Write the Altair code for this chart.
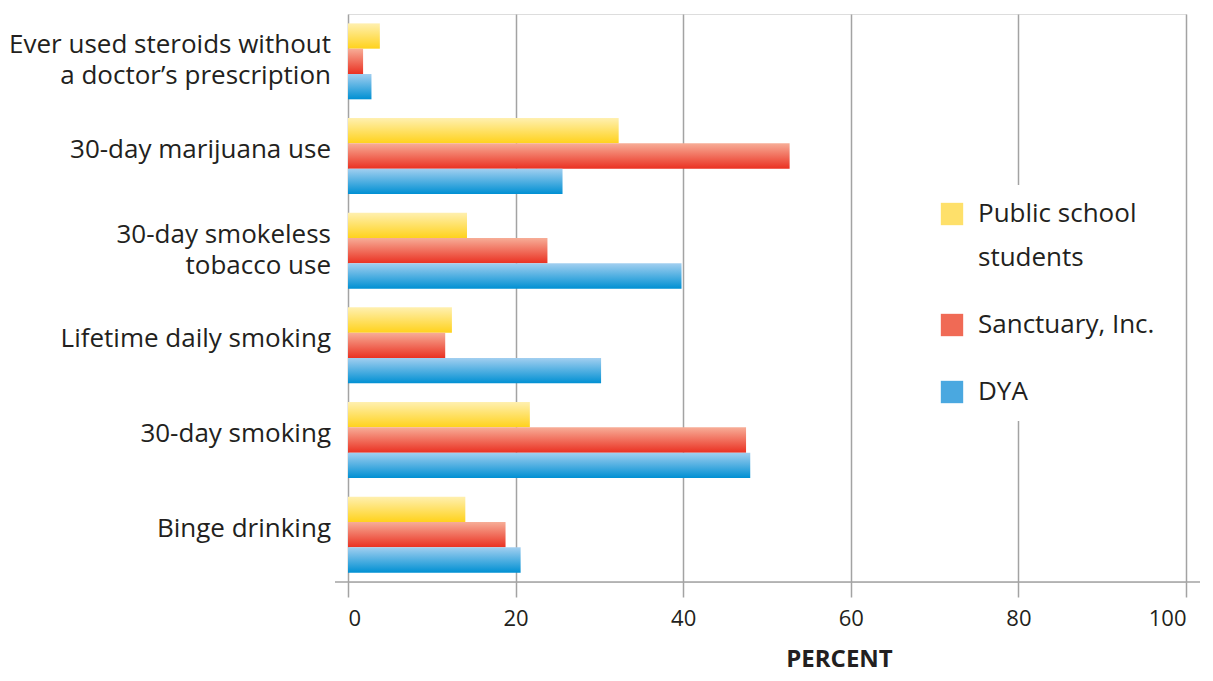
import altair as alt
import pandas as pd

categories = [
    "Ever used steroids without|a doctor\u2019s prescription",
    "30-day marijuana use",
    "30-day smokeless|tobacco use",
    "Lifetime daily smoking",
    "30-day smoking",
    "Binge drinking",
]
series = ["Public school students", "Sanctuary, Inc.", "DYA"]
public_school = [3.8, 32.3, 14.2, 12.4, 21.7, 14.0]
sanctuary = [1.8, 52.7, 23.8, 11.6, 47.5, 18.8]
dya = [2.8, 25.6, 39.8, 30.2, 48.0, 20.6]
x_ticks = [0, 20, 40, 60, 80, 100]

rows = []
for i, c in enumerate(categories):
    for s, vals in zip(series, [public_school, sanctuary, dya]):
        rows.append({"category": c, "series": s, "value": vals[i]})
df = pd.DataFrame(rows)
cat_df = pd.DataFrame({"category": categories})

FONT = "Open Sans"
TXT = "#231f20"
GRAY = "#a3a3a3"

gradients = {
    "Public school students": ("#fff0b0", "#ffd21c"),
    "Sanctuary, Inc.": ("#f7ad97", "#ea3122"),
    "DYA": ("#a2cff0", "#0090d3"),
}
legend_colors = ["#fee06a", "#f06a55", "#4aa8e0"]

W = 838
H = 568

y_scale = alt.Scale(domain=categories, paddingInner=0, paddingOuter=0)
y_enc = alt.Y(
    "category:N",
    sort=categories,
    scale=y_scale,
    axis=alt.Axis(
        title=None,
        labels=False,
        tickBand="extent",
        tickSize=9,
        tickColor=GRAY,
        tickWidth=1.5,
        domainColor=GRAY,
        domainWidth=1.5,
        grid=False,
    ),
)
x_enc = alt.X(
    "value:Q",
    scale=alt.Scale(domain=[0, 100], nice=False),
    axis=alt.Axis(
        values=x_ticks,
        title="PERCENT",
        titleFont=FONT,
        titleFontSize=24,
        titleFontWeight="bold",
        titleColor=TXT,
        titleX=491,
        titleY=84,
        titleBaseline="alphabetic",
        labelFont=FONT,
        labelFontSize=22,
        labelColor=TXT,
        labelPadding=11,
        tickSize=15,
        tickColor=GRAY,
        tickWidth=1.5,
        domain=False,
        grid=True,
        gridColor=GRAY,
        gridWidth=1.5,
    ),
)
yoff = alt.YOffset(
    "series:N",
    sort=series,
    scale=alt.Scale(domain=series, paddingInner=0, paddingOuter=0.37),
)

layers = []
for s in series:
    top, bottom = gradients[s]
    grad = alt.LinearGradient(
        gradient="linear",
        stops=[alt.GradientStop(color=top, offset=0), alt.GradientStop(color=bottom, offset=1)],
        x1=0, x2=0, y1=0, y2=1,
    )
    layers.append(
        alt.Chart(df)
        .transform_filter(alt.datum.series == s)
        .mark_bar(color=grad, stroke=None)
        .encode(y=y_enc, x=x_enc, yOffset=yoff)
    )

# category labels (drawn as text so one- and two-line labels can be placed separately)
label_y = alt.Y("category:N", sort=categories, scale=y_scale, axis=None)
single_labels = (
    alt.Chart(cat_df)
    .transform_filter("indexof(datum.category, '|') < 0")
    .mark_text(align="right", baseline="middle", font=FONT, fontSize=26, color=TXT, dy=-6)
    .encode(y=label_y, x=alt.value(-17), text="category:N")
)
double_labels = (
    alt.Chart(cat_df)
    .transform_filter("indexof(datum.category, '|') >= 0")
    .transform_calculate(lines="split(datum.category, '|')")
    .mark_text(align="right", baseline="middle", font=FONT, fontSize=26, color=TXT,
               lineHeight=31, dy=-16)
    .encode(y=label_y, x=alt.value(-17), text="lines:N")
)

bottom_line = (
    alt.Chart(pd.DataFrame({"a": [0]}))
    .mark_rule(color=GRAY, strokeWidth=1.5)
    .encode(x=alt.value(-13), x2=alt.value(W + 14), y=alt.value(H))
)

legend_layer = (
    alt.Chart(pd.DataFrame({"series": series}))
    .mark_square(opacity=0)
    .encode(
        x=alt.value(0),
        y=alt.value(0),
        color=alt.Color(
            "series:N",
            sort=series,
            scale=alt.Scale(domain=series, range=legend_colors),
            legend=alt.Legend(
                title=None,
                orient="none",
                legendX=575,
                legendY=171,
                fillColor="white",
                padding=16,
                symbolType="square",
                symbolSize=500,
                symbolOpacity=1,
                symbolStrokeWidth=0,
                labelFont=FONT,
                labelFontSize=26,
                labelColor=TXT,
                labelOffset=13,
                labelLimit=300,
                rowPadding=41,
                labelExpr="datum.label == 'Public school students' ? ['Public school', 'students'] : datum.label",
            ),
        ),
    )
)

chart = (
    alt.layer(bottom_line, *layers, single_labels, double_labels, legend_layer)
    .properties(
        width=W,
        height=H,
        autosize=alt.AutoSizeParams(type="none"),
        padding={"left": 340, "top": 6, "right": 19, "bottom": 90},
    )
    .configure_view(stroke=None)
    .configure(background="white", style={"guide-label": {"lineHeight": 44}})
)

chart.save("out.html", embed_options={"renderer": "svg", "actions": False})
